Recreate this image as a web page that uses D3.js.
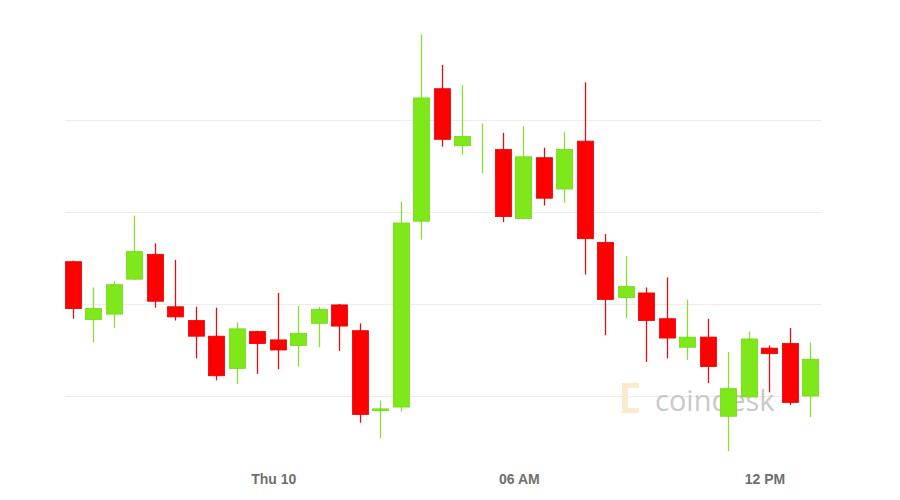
<!DOCTYPE html>
<html><head><meta charset="utf-8">
<script src="https://cdn.jsdelivr.net/npm/d3@7"></script>
<style>html,body{margin:0;padding:0;background:#fff;}svg{display:block;}</style>
</head><body>
<svg id="chart" width="900" height="500"></svg>
<script>
// half-hour candles, Wed 9 19:00 -> Thu 10 13:00
const times = d3.range(37).map(i => new Date(2020, 8, 9, 19, 0 + i * 30));
const open  = [9546,9483,9489,9527,9554,9497,9482,9465,9430,9470,9461,9455,9479,9499,9471,9384,9388,9590,9734,9672,9670,9668,9593,9659,9625,9677,9567,9507,9512,9484,9453,9464,9378,9399,9452,9457,9400];
const high  = [9547,9518,9525,9596,9566,9548,9497,9496,9480,9471,9512,9498,9497,9500,9479,9395,9611,9793,9760,9738,9696,9686,9693,9670,9687,9741,9576,9552,9518,9529,9505,9484,9448,9470,9455,9474,9458];
const low   = [9484,9458,9474,9526,9496,9482,9441,9417,9413,9424,9429,9432,9453,9449,9371,9354,9383,9570,9671,9662,9642,9589,9592,9607,9610,9532,9466,9485,9437,9441,9439,9414,9340,9399,9404,9390,9377];
const close = [9495,9495,9521,9557,9503,9486,9465,9422,9473,9457,9450,9468,9494,9476,9380,9386,9588,9724,9679,9682,9670,9595,9660,9615,9668,9571,9505,9519,9482,9463,9464,9432,9408,9462,9446,9393,9440];
const gridValues = [9400, 9500, 9600, 9700];
const tickTimes = [new Date(2020,8,10,0,0), new Date(2020,8,10,6,0), new Date(2020,8,10,12,0)];
const tickLabels = ["Thu 10", "06 AM", "12 PM"];

const svg = d3.select("#chart");
const x = d3.scaleTime().domain([times[0], times[times.length-1]]).range([73, 810]);
const y = d3.scaleLinear().domain([9400, 9700]).range([396, 120]);

// grid
svg.append("g").selectAll("line").data(gridValues).join("line")
  .attr("x1", 65).attr("x2", 822)
  .attr("y1", d => Math.round(y(d)) + 0.5).attr("y2", d => Math.round(y(d)) + 0.5)
  .attr("stroke", "#ececec").attr("stroke-width", 1);

// watermark
const wm = svg.append("g").attr("opacity", 0.85);
wm.append("path")
  .attr("d", "M622,383 h17 v5 h-11 v20 h11 v5 h-17 z")
  .attr("fill", "#f6ebc6");
wm.append("text").attr("x", 655).attr("y", 411)
  .attr("font-family", "'Open Sans', 'Liberation Sans', sans-serif")
  .attr("font-size", 29).attr("fill", "#c0c0c0").text("coindesk");

// candles
const up = "#7fe81b", down = "#ff0000";
const data = times.map((t, i) => ({t, o: open[i], h: high[i], l: low[i], c: close[i]}));
const bw = 16;
const g = svg.append("g");
g.selectAll("line.wick").data(data).join("line").attr("class", "wick")
  .attr("x1", d => Math.round(x(d.t)) + 0.5).attr("x2", d => Math.round(x(d.t)) + 0.5)
  .attr("y1", d => y(d.h)).attr("y2", d => y(d.l))
  .attr("stroke", d => d.c >= d.o ? "#86e030" : "#e01010").attr("stroke-width", 1.3);
g.selectAll("rect.body").data(data.filter(d => d.o !== d.c)).join("rect").attr("class", "body")
  .attr("x", d => Math.round(x(d.t)) + 0.5 - bw / 2)
  .attr("width", bw)
  .attr("y", d => y(Math.max(d.o, d.c)))
  .attr("height", d => Math.max(1, Math.abs(y(d.o) - y(d.c))))
  .attr("fill", d => d.c >= d.o ? up : down)
  .attr("stroke", d => d.c >= d.o ? "#74d812" : "#e60000").attr("stroke-width", 0.8);

// x labels
svg.append("g").selectAll("text").data(tickTimes).join("text")
  .attr("x", d => x(d) - 4).attr("y", 484)
  .attr("text-anchor", "middle")
  .attr("font-family", "'Liberation Sans', Arial, sans-serif")
  .attr("font-weight", "bold").attr("font-size", 14).attr("fill", "#6f6f6f")
  .text((d, i) => tickLabels[i]);
</script>
</body></html>
